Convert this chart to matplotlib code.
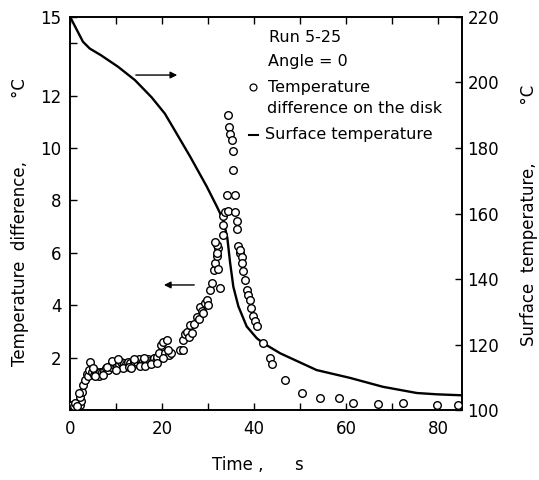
import matplotlib
matplotlib.use('Agg')
import matplotlib.pyplot as plt

# surface temperature (right axis, degC)
line_t = [0, 2.8, 4.3, 6.7, 10.4, 14.1, 17.7, 20.6, 22.5, 26.1, 29.7, 31.9, 33.3,
          34.2, 34.8, 35.5, 36.6, 38.4, 40.6, 42, 45.7, 53.6, 60.9, 68, 75.4, 79.8, 85.2]
line_T = [220, 212.4, 210.3, 208.3, 204.8, 200.7, 195.5, 190.5, 186, 177.4, 168.3,
          162.2, 158.1, 152.5, 145, 137.7, 131.7, 125.6, 122, 120.5, 117.4, 112.3,
          109.9, 107.2, 105.3, 104.9, 104.6]

# temperature difference on the disk (left axis, degC)
pts_t = [0.5, 0.9, 1.2, 1.5, 1.8, 2.1, 2.4, 1.0, 1.6, 2.2, 2.6, 2.9, 3.3, 3.6, 2.0,
         4.3, 3.8, 4.2, 4.7, 5.1, 5.5, 5.8, 6.2, 6.5, 4.9, 5.4,
         7.0, 7.4, 7.8, 8.2, 8.6, 9.0, 9.4, 9.8, 10.2, 10.6, 11.0, 11.4, 11.8,
         12.2, 12.6, 13.0, 13.4, 13.8, 14.2, 14.6, 15.0, 15.4, 15.8, 16.2, 16.6,
         17.0, 17.4, 17.8, 18.2, 18.6, 19.0, 8.0, 9.2, 10.4, 11.6, 12.8, 14.0,
         15.2, 16.4, 17.6, 18.8, 7.2, 10.0, 13.2, 16.0, 19.4, 19.8, 20.2, 20.6,
         21.0, 21.5, 22.0, 20.3, 21.2,
         24.0, 24.6, 24.6, 25.0, 25.4, 25.8, 26.0, 26.5, 27.0, 27.6, 28.0, 28.3,
         28.6, 29.0, 29.3, 29.7, 30.0, 30.4, 30.8, 31.2, 31.5, 31.9, 32.2, 32.6,
         32.0, 31.5, 32.2, 31.9,
         33.3, 33.3, 33.3, 33.7, 34.1, 34.3, 34.4, 34.6, 34.8, 35.2, 35.5, 35.5,
         35.8, 35.8, 36.2, 36.2, 36.6, 36.9,
         37.0, 37.3, 37.3, 37.6, 38.0, 38.4, 38.7, 39.1, 39.4, 39.8, 40.2, 40.6,
         42.0, 43.5, 43.9, 46.7, 50.4, 54.3, 58.5, 61.5, 67.0, 72.4, 79.8, 84.3]
pts_D = [0.2, 0.15, 0.25, 0.2, 0.3, 0.2, 0.35, 0.3, 0.15, 0.5, 0.7, 0.95, 1.15, 1.4, 0.65,
         1.85, 1.3, 1.55, 1.45, 1.35, 1.5, 1.4, 1.3, 1.45, 1.6, 1.3,
         1.45, 1.5, 1.6, 1.55, 1.7, 1.65, 1.75, 1.8, 1.7, 1.75, 1.85, 1.7, 1.8,
         1.75, 1.85, 1.8, 1.7, 1.9, 1.8, 1.85, 1.95, 1.75, 1.9, 1.85, 1.8,
         1.95, 1.9, 1.85, 2.0, 1.9, 2.05, 1.65, 1.9, 1.95, 1.6, 1.65, 1.95,
         1.7, 1.7, 1.75, 1.8, 1.35, 1.55, 1.6, 2.0, 2.2, 2.5, 2.6, 2.2,
         2.7, 2.1, 2.2, 2.0, 2.3,
         2.3, 2.7, 2.3, 2.9, 3.0, 2.8, 3.25, 2.95, 3.3, 3.57, 3.5, 3.95,
         3.8, 3.7, 4.1, 4.2, 4.0, 4.6, 4.85, 5.35, 5.6, 5.9, 6.2, 4.65,
         6.3, 6.4, 5.4, 6.0,
         7.4, 7.05, 6.7, 7.55, 8.2, 7.6, 11.25, 10.8, 10.55, 10.3, 9.9, 9.15,
         8.2, 7.55, 7.2, 6.9, 6.25, 6.0,
         6.1, 5.85, 5.6, 5.3, 4.97, 4.6, 4.4, 4.2, 3.9, 3.6, 3.4, 3.2,
         2.57, 2.0, 1.75, 1.16, 0.67, 0.48, 0.48, 0.29, 0.25, 0.29, 0.21, 0.21]

fig = plt.figure(figsize=(5.39, 4.8), dpi=100)
ax = fig.add_axes([0.130, 0.145, 0.727, 0.820])
ax2 = ax.twinx()

ax.scatter(pts_t, pts_D, s=30, facecolors='white', edgecolors='black',
           linewidths=1.0, zorder=3)
ax2.plot(line_t, line_T, color='black', lw=1.7)

ax.set_xlim(0, 85.2)
ax.set_ylim(0, 15)
ax2.set_ylim(100, 220)
ax.set_zorder(ax2.get_zorder() + 1)
ax.patch.set_visible(False)

ax.set_xticks([0, 20, 40, 60, 80])
ax.set_xticks([10, 30, 50, 70], minor=True)
ax.set_yticks([2, 4, 6, 8, 10, 12, 14, 15])
ax.set_yticklabels(['2', '4', '6', '8', '10', '12', '', '15'])
ax2.set_yticks([100, 120, 140, 160, 180, 200, 220])

fs = 12
ax.tick_params(which='both', direction='in', top=True, labelsize=fs, length=5, width=1)
ax.tick_params(axis='x', pad=7)
ax.tick_params(axis='y', pad=6)
ax2.tick_params(direction='in', labelsize=fs, length=5, width=1, pad=4)
for a in (ax, ax2):
    for sp in a.spines.values():
        sp.set_linewidth(1.2)

# legend-like notes
nfs = 11.5
ax.text(43.3, 14.23, 'Run 5-25', fontsize=nfs, va='center')
ax.text(43.0, 13.28, 'Angle = 0', fontsize=nfs, va='center')
ax.plot([39.8], [12.32], 'o', ms=5, mfc='white', mec='black', mew=0.9)
ax.text(43.0, 12.32, 'Temperature', fontsize=nfs, va='center')
ax.text(42.8, 11.52, 'difference on the disk', fontsize=nfs, va='center')
ax.plot([38.8, 40.8], [10.5, 10.5], color='black', lw=1.5)
ax.text(42.3, 10.5, 'Surface temperature', fontsize=nfs, va='center')

# arrows pointing to each axis
ax.annotate('', xy=(23.9, 12.78), xytext=(13.7, 12.78),
            arrowprops=dict(arrowstyle='-|>', color='black', lw=1.0, mutation_scale=10))
ax.annotate('', xy=(19.8, 4.78), xytext=(27.6, 4.78),
            arrowprops=dict(arrowstyle='-|>', color='black', lw=1.0, mutation_scale=10))

fig.text(20 / 539, 1 - 222 / 480, 'Temperature  difference,            \u00b0C',
         rotation=90, ha='center', va='center', fontsize=fs)
fig.text(529 / 539, 1 - 215 / 480, 'Surface  temperature,           \u00b0C',
         rotation=90, ha='center', va='center', fontsize=fs)
fig.text(258 / 539, 1 - 465 / 480, 'Time ,      s', ha='center', va='center', fontsize=fs)

fig.savefig('out.png', dpi=100)
